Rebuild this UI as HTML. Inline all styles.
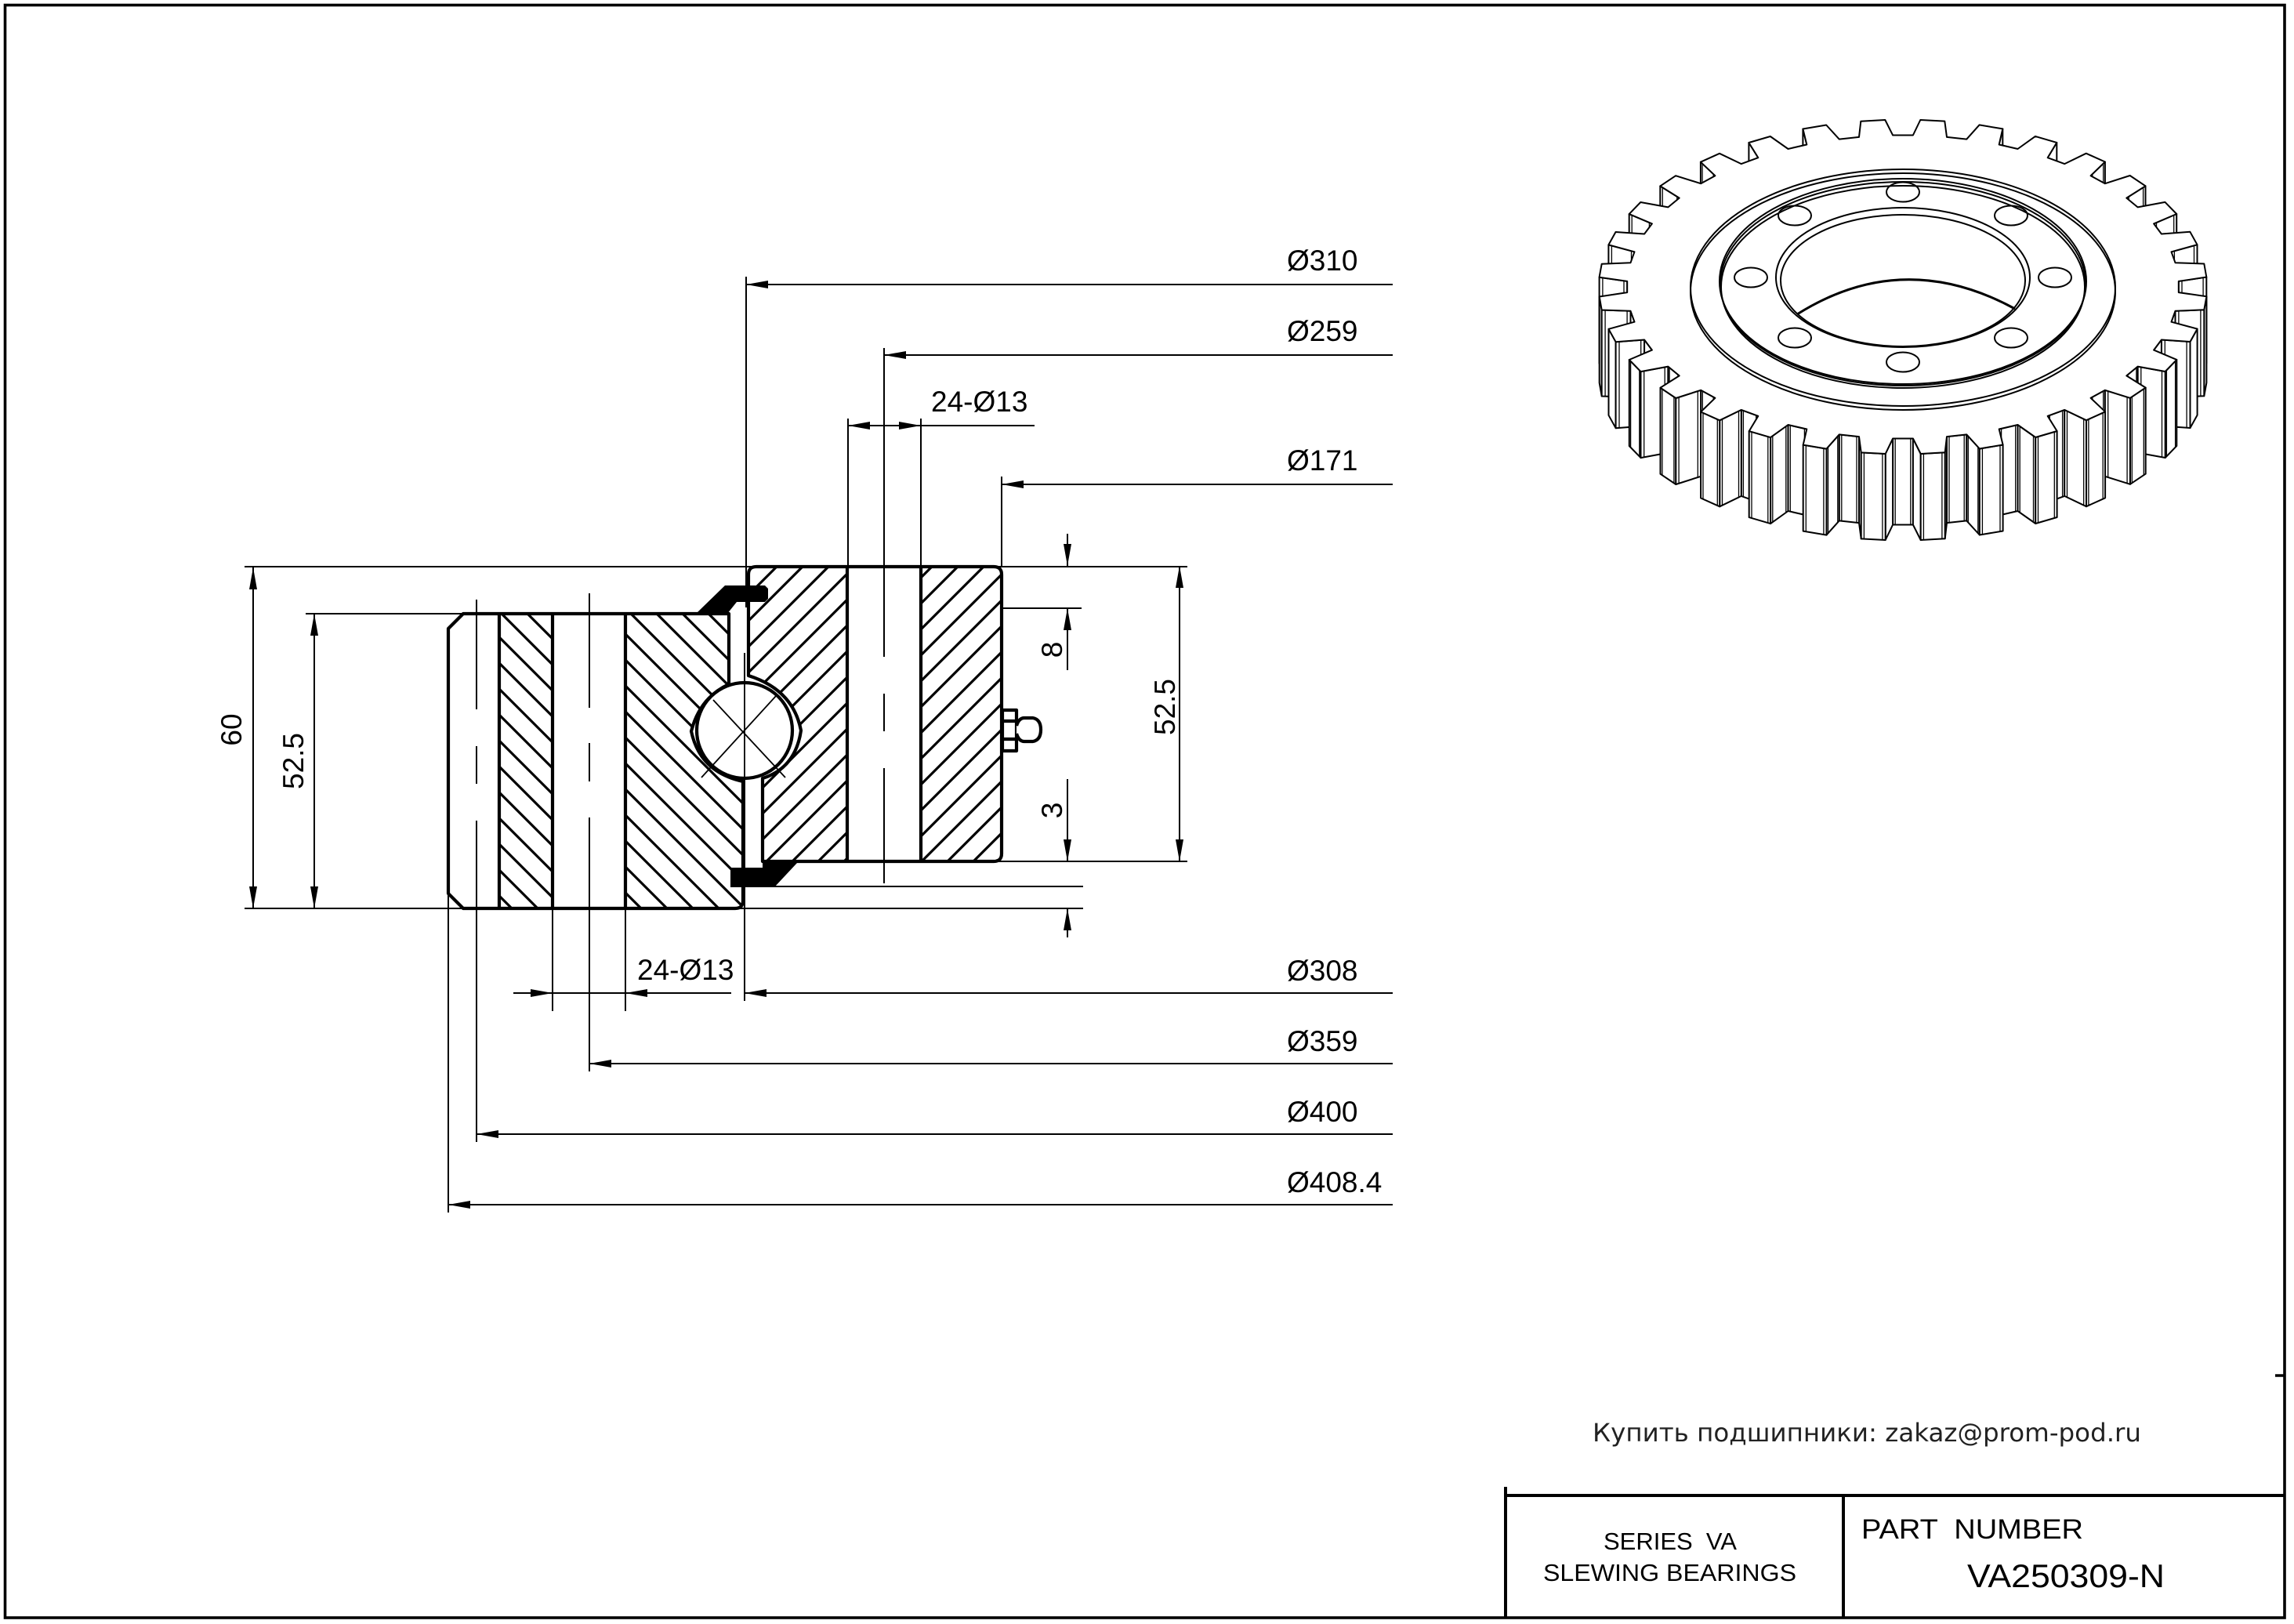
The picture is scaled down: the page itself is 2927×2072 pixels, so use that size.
<!DOCTYPE html>
<html><head><meta charset="utf-8"><style>
html,body{margin:0;padding:0;background:#fff}
svg{display:block}
text{font-family:"Liberation Sans",Arial,sans-serif;fill:#000}
</style></head><body>
<svg xmlns="http://www.w3.org/2000/svg" width="2927" height="2072" viewBox="0 0 2927 2072">
<defs>
<pattern id="hL" patternUnits="userSpaceOnUse" x="0" y="11" width="33" height="33"><path d="M-5,-5 L38,38 M-5,28 L5,38 M28,-5 L38,5" stroke="#000" stroke-width="3.2"/></pattern>
<pattern id="hR" patternUnits="userSpaceOnUse" x="0" y="31" width="33" height="33"><path d="M-5,38 L38,-5 M-5,5 L5,-5 M28,38 L38,28" stroke="#000" stroke-width="3.2"/></pattern>
</defs>
<rect width="2927" height="2072" fill="#fff"/>
<!-- border -->
<rect x="6.5" y="6.5" width="2908.5" height="2057.5" fill="none" stroke="#000" stroke-width="3.6"/>
<line x1="2903" y1="1755" x2="2915" y2="1755" stroke="#000" stroke-width="3.5"/>

<!-- title block -->
<g stroke="#000" stroke-width="4" fill="none">
<line x1="1921" y1="1908" x2="2915" y2="1908"/>
<line x1="1921" y1="1897" x2="1921" y2="2064"/>
<line x1="2352" y1="1908" x2="2352" y2="2064"/>
</g>
<text x="2032" y="1839" font-size="32" textLength="700" lengthAdjust="spacingAndGlyphs" style="font-family:'DejaVu Sans',sans-serif;fill:#222">Купить подшипники: zakaz@prom-pod.ru</text>
<text x="2131" y="1977" font-size="31" text-anchor="middle" style="white-space:pre">SERIES  VA</text>
<text x="1969" y="2017" font-size="31" textLength="323" lengthAdjust="spacingAndGlyphs">SLEWING BEARINGS</text>
<text x="2375" y="1963" font-size="35" textLength="283" lengthAdjust="spacingAndGlyphs" style="white-space:pre">PART  NUMBER</text>
<text x="2510" y="2025" font-size="42" textLength="252" lengthAdjust="spacingAndGlyphs">VA250309-N</text>

<!-- ===== Section drawing ===== -->
<path d="M591,783 L930,783 L930,873 Q893,890 882,933 Q893,985 948,997 L948,1149 Q948,1159 938,1159 L591,1159 L572,1140 L572,802 Z" fill="url(#hL)"/>
<path d="M965,723 L1268,723 Q1278,723 1278,733 L1278,1089 Q1278,1099 1268,1099 L973,1099 L973,993 Q1015,980 1022,932 Q1012,880 955,862 L955,733 Q955,723 965,723 Z" fill="url(#hR)"/>
<rect x="573" y="785" width="64" height="372" fill="#fff"/>
<rect x="705" y="785" width="93" height="372" fill="#fff"/>
<rect x="1081" y="725" width="94" height="372" fill="#fff"/>

<g stroke="#000" stroke-width="2" fill="none">
<line x1="312" y1="723" x2="1515" y2="723"/>
<line x1="312" y1="1159" x2="1382" y2="1159"/>
<line x1="390" y1="783" x2="591" y2="783"/>
<line x1="988" y1="1131" x2="1382" y2="1131"/>
<line x1="973" y1="1099" x2="1515" y2="1099"/>
<line x1="1280" y1="776" x2="1380" y2="776"/>
<line x1="323" y1="724" x2="323" y2="1159"/>
<line x1="401" y1="783" x2="401" y2="1159"/>
<line x1="1362" y1="681" x2="1362" y2="722"/>
<line x1="1362" y1="776" x2="1362" y2="855"/>
<line x1="1362" y1="994" x2="1362" y2="1099"/>
<line x1="1362" y1="1159" x2="1362" y2="1196"/>
<line x1="1505" y1="722" x2="1505" y2="1099"/>
<line x1="952" y1="353" x2="952" y2="775"/>
<line x1="952" y1="363" x2="1777" y2="363"/>
<line x1="1128" y1="444" x2="1128" y2="838"/>
<line x1="1128" y1="885" x2="1128" y2="933"/>
<line x1="1128" y1="980" x2="1128" y2="1127"/>
<line x1="1128" y1="453" x2="1777" y2="453"/>
<line x1="1082" y1="534" x2="1082" y2="723"/>
<line x1="1175" y1="534" x2="1175" y2="723"/>
<line x1="1082" y1="543" x2="1320" y2="543"/>
<line x1="1278" y1="608" x2="1278" y2="723"/>
<line x1="1278" y1="618" x2="1777" y2="618"/>
<line x1="950" y1="833" x2="950" y2="1277"/>
<line x1="950" y1="1267" x2="1777" y2="1267"/>
<line x1="705" y1="1159" x2="705" y2="1290"/>
<line x1="798" y1="1159" x2="798" y2="1290"/>
<line x1="655" y1="1267" x2="933" y2="1267"/>
<line x1="752" y1="757" x2="752" y2="903"/>
<line x1="752" y1="948" x2="752" y2="997"/>
<line x1="752" y1="1043" x2="752" y2="1367"/>
<line x1="752" y1="1357" x2="1777" y2="1357"/>
<line x1="608" y1="765" x2="608" y2="905"/>
<line x1="608" y1="952" x2="608" y2="1000"/>
<line x1="608" y1="1047" x2="608" y2="1457"/>
<line x1="608" y1="1447" x2="1777" y2="1447"/>
<line x1="572" y1="1140" x2="572" y2="1547"/>
<line x1="572" y1="1537" x2="1777" y2="1537"/>
</g>

<g fill="#000">
<polygon points="323,724 318,752 328,752"/>
<polygon points="323,1159 318,1131 328,1131"/>
<polygon points="401,783 396,811 406,811"/>
<polygon points="401,1159 396,1131 406,1131"/>
<polygon points="1362,722 1357,694 1367,694"/>
<polygon points="1362,776 1357,804 1367,804"/>
<polygon points="1362,1099 1357,1071 1367,1071"/>
<polygon points="1362,1159 1357,1187 1367,1187"/>
<polygon points="1505,722 1500,750 1510,750"/>
<polygon points="1505,1099 1500,1071 1510,1071"/>
<polygon points="952,363 980,358 980,368"/>
<polygon points="1128,453 1156,448 1156,458"/>
<polygon points="1082,543 1110,538 1110,548"/>
<polygon points="1175,543 1147,538 1147,548"/>
<polygon points="1278,618 1306,613 1306,623"/>
<polygon points="950,1267 978,1262 978,1272"/>
<polygon points="705,1267 677,1262 677,1272"/>
<polygon points="798,1267 826,1262 826,1272"/>
<polygon points="752,1357 780,1352 780,1362"/>
<polygon points="608,1447 636,1442 636,1452"/>
<polygon points="572,1537 600,1532 600,1542"/>
</g>

<g stroke="#000" stroke-width="4.2" fill="none" stroke-linejoin="round">
<path d="M591,783 L930,783 L930,873 Q893,890 882,933 Q893,985 948,997 L948,1149 Q948,1159 938,1159 L591,1159 L572,1140 L572,802 Z"/>
<path d="M965,723 L1268,723 Q1278,723 1278,733 L1278,1089 Q1278,1099 1268,1099 L973,1099 L973,993 Q1015,980 1022,932 Q1012,880 955,862 L955,733 Q955,723 965,723 Z"/>
<line x1="637" y1="783" x2="637" y2="1159"/>
<line x1="705" y1="783" x2="705" y2="1159"/>
<line x1="798" y1="783" x2="798" y2="1159"/>
<line x1="1081" y1="723" x2="1081" y2="1099"/>
<line x1="1175" y1="723" x2="1175" y2="1099"/>
<rect x="1279" y="906" width="18" height="52" fill="#fff"/>
<line x1="1279" y1="920" x2="1297" y2="920"/>
<line x1="1279" y1="943" x2="1297" y2="943"/>
<path d="M1297,926 Q1300,916 1307,916 L1318,916 Q1328,918 1328,931 Q1328,944 1318,946 L1307,946 Q1300,946 1297,936" fill="#fff"/>
</g>
<circle cx="950" cy="932" r="61" fill="#fff" stroke="#000" stroke-width="4.2"/>
<g stroke="#000" stroke-width="1.8">
<line x1="895" y1="992" x2="990" y2="888"/>
<line x1="910" y1="893" x2="1002" y2="992"/>
<line x1="950" y1="833" x2="950" y2="1030"/>
</g>
<polygon points="888,783 925,747 976,747 980,751 980,764 976,768 940,768 928,783" fill="#000"/>
<polygon points="932,1107 973,1107 973,1101 1017,1101 988,1132 932,1132" fill="#000"/>

<g font-size="37">
<text x="1642" y="345">Ø310</text>
<text x="1642" y="435">Ø259</text>
<text x="1188" y="525">24-Ø13</text>
<text x="1642" y="600">Ø171</text>
<text x="1642" y="1251">Ø308</text>
<text x="813" y="1250">24-Ø13</text>
<text x="1642" y="1341">Ø359</text>
<text x="1642" y="1431">Ø400</text>
<text x="1642" y="1521">Ø408.4</text>
<text transform="translate(308,931) rotate(-90)" text-anchor="middle">60</text>
<text transform="translate(387,971) rotate(-90)" text-anchor="middle">52.5</text>
<text transform="translate(1499,902) rotate(-90)" text-anchor="middle">52.5</text>
<text transform="translate(1355,829) rotate(-90)" text-anchor="middle">8</text>
<text transform="translate(1355,1034) rotate(-90)" text-anchor="middle">3</text>
</g>

<!-- ===== 3D gear ===== -->
<g id="gear" stroke="#000" stroke-width="2" stroke-linejoin="round" fill="#fff"></g>
<g id="gtop" stroke="#000" stroke-width="2" fill="none">
<ellipse cx="2428" cy="372" rx="271" ry="151"/>
<ellipse cx="2428" cy="367" rx="271" ry="151"/>
<ellipse cx="2428" cy="366" rx="232" ry="129"/>
<ellipse cx="2428" cy="362" rx="233" ry="130"/>
<ellipse cx="2428" cy="359" rx="234" ry="131"/>
<ellipse cx="2428" cy="354" rx="162" ry="89"/>
<ellipse cx="2428" cy="358" rx="156" ry="84"/>
<path d="M2293,401 Q2428,316 2571,394" stroke-width="3"/>
<ellipse cx="2428" cy="245" rx="21" ry="12.5"/>
<ellipse cx="2566" cy="275" rx="21" ry="12.5"/>
<ellipse cx="2622" cy="354" rx="21" ry="12.5"/>
<ellipse cx="2566" cy="431" rx="21" ry="12.5"/>
<ellipse cx="2428" cy="462" rx="21" ry="12.5"/>
<ellipse cx="2290" cy="431" rx="21" ry="12.5"/>
<ellipse cx="2234" cy="354" rx="21" ry="12.5"/>
<ellipse cx="2290" cy="275" rx="21" ry="12.5"/>
</g>
</svg>
<script>
(function(){
var NS='http://www.w3.org/2000/svg';
var g=document.getElementById('gear');
var cx=2428, cy=366, k=0.55, H=110, N=32, P=360/32, Rt=388, Rr=352;
var prof=[[Rr,0],[Rr,4.2],[Rt,5.4],[Rt,10.0]];
var pts=[], raw=[];
for(var i=0;i<N;i++){
  var a0=i*P-2.1;
  for(var j=0;j<prof.length;j++){
    var r=prof[j][0], a=(a0+prof[j][1])*Math.PI/180;
    raw.push([r*Math.cos(a), r*Math.sin(a)]);
    pts.push([cx+r*Math.cos(a), cy+k*r*Math.sin(a)]);
  }
}
var walls=[];
for(var i=0;i<pts.length;i++){
  var n=(i+1)%pts.length;
  var dx=raw[n][0]-raw[i][0];
  if(dx<0){
    walls.push({p:pts[i],q:pts[n],y:(pts[i][1]+pts[n][1])/2});
  }
}
walls.sort(function(a,b){return a.y-b.y;});
function f(v){return v.toFixed(1);}
walls.forEach(function(w){
  var p=w.p,q=w.q;
  var el=document.createElementNS(NS,'polygon');
  el.setAttribute('points',f(p[0])+','+f(p[1])+' '+f(q[0])+','+f(q[1])+' '+f(q[0])+','+f(q[1]+H)+' '+f(p[0])+','+f(p[1]+H));
  g.appendChild(el);
  var wd=Math.abs(q[0]-p[0]);
  if(wd>14){
    [0.12,0.88].forEach(function(t){
      var x=p[0]+(q[0]-p[0])*t, y=p[1]+(q[1]-p[1])*t;
      var l=document.createElementNS(NS,'line');
      l.setAttribute('x1',f(x));l.setAttribute('y1',f(y));
      l.setAttribute('x2',f(x));l.setAttribute('y2',f(y+H));
      l.setAttribute('stroke-width','1.3');
      g.appendChild(l);
    });
  }
});
var top=document.createElementNS(NS,'polygon');
top.setAttribute('points',pts.map(function(p){return f(p[0])+','+f(p[1]);}).join(' '));
g.appendChild(top);
})();
</script>
</body></html>
